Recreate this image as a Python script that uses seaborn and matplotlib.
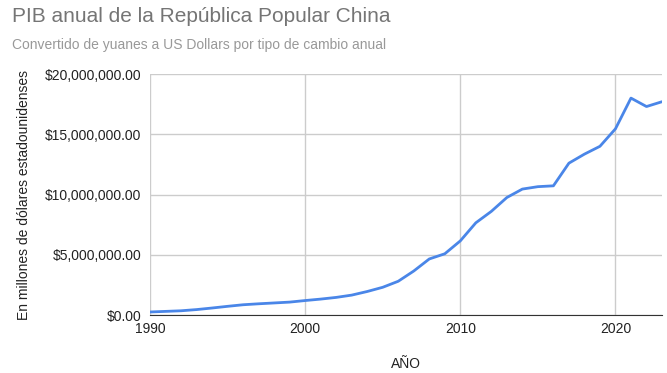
import matplotlib
matplotlib.use("Agg")
import matplotlib.pyplot as plt
import matplotlib.ticker as mticker
import seaborn as sns
import pandas as pd

years = list(range(1990, 2024))
# PIB en millones de USD
pib = [0.25e6, 0.30e6, 0.35e6, 0.45e6, 0.58e6, 0.72e6, 0.85e6, 0.93e6, 1.00e6, 1.07e6,
       1.20e6, 1.32e6, 1.46e6, 1.65e6, 1.95e6, 2.30e6, 2.80e6, 3.65e6, 4.65e6, 5.08e6,
       6.15e6, 7.65e6, 8.60e6, 9.75e6, 10.45e6, 10.65e6, 10.72e6, 12.60e6, 13.35e6, 14.00e6,
       15.45e6, 18.00e6, 17.30e6, 17.70e6]
x_ticks = [1990, 2000, 2010, 2020]
y_ticks = [0, 5e6, 10e6, 15e6, 20e6]

df = pd.DataFrame({"year": years, "pib": pib})

sns.set_style("white")
plt.rcParams["font.family"] = ["Liberation Sans", "DejaVu Sans"]

fig = plt.figure(figsize=(6.67, 3.73), dpi=100)
ax = fig.add_axes([150 / 667, 1 - 315 / 373, 512 / 667, 241 / 373])

sns.lineplot(data=df, x="year", y="pib", color="#4a86e8", linewidth=2, ax=ax)

ax.set_xlim(1990, 2023)
ax.set_ylim(0, 20e6)
ax.set_xticks(x_ticks)
ax.set_yticks(y_ticks)
ax.yaxis.set_major_formatter(mticker.FuncFormatter(lambda v, p: f"${v:,.2f}"))
ax.grid(True, color="#cccccc", linewidth=1)
ax.set_axisbelow(True)
for side in ["top", "right", "left"]:
    ax.spines[side].set_visible(False)
ax.spines["bottom"].set_color("#333333")
ax.tick_params(axis="both", length=0, labelsize=10, colors="#222222")
ax.tick_params(axis="y", pad=6)
ax.tick_params(axis="x", pad=5)

ax.set_xlabel("AÑO", fontsize=10, color="#222222", labelpad=15)
ax.set_ylabel("En millones de dólares estadounidenses", fontsize=10, color="#222222", labelpad=10)

fig.text(12 / 667, 1 - 17 / 373, "PIB anual de la República Popular China",
         fontsize=15, color="#757575", va="center", ha="left")
fig.text(12 / 667, 1 - 45 / 373, "Convertido de yuanes a US Dollars por tipo de cambio anual",
         fontsize=10, color="#999999", va="center", ha="left")

fig.savefig("out.png", dpi=100)
